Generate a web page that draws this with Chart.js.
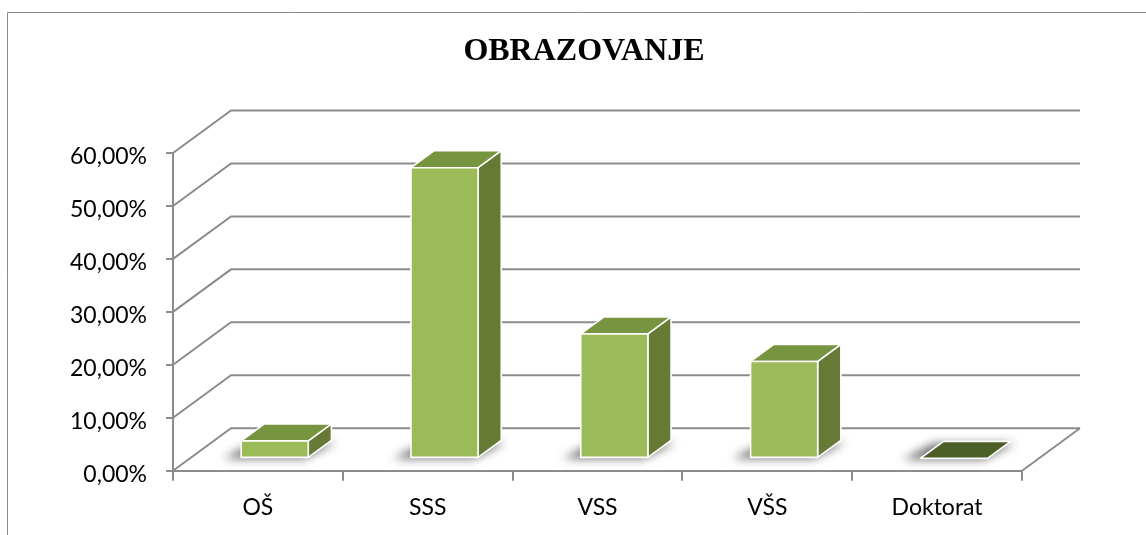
<!DOCTYPE html>
<html>
<head>
<meta charset="utf-8">
<script src="https://cdn.jsdelivr.net/npm/chart.js@4/dist/chart.umd.min.js"></script>
<style>
  html, body { margin: 0; padding: 0; background: #ffffff; }
  #wrap { position: relative; width: 1146px; height: 535px; }
</style>
</head>
<body>
<div id="wrap"><canvas id="c" width="1146" height="535"></canvas></div>
<script>
const categories = ['OŠ', 'SSS', 'VSS', 'VŠS', 'Doktorat'];
const values = [3.3, 54.9, 23.5, 18.3, 0];
const yTicks = [0, 10, 20, 30, 40, 50, 60];
const titleText = 'OBRAZOVANJE';

const DX = 58, DY = 42.5;        // depth offset of back wall
const F1 = 0.29, F2 = 0.69;      // bar depth (front / back fraction)
const GRID = '#8c8c8c';
const FRONT = '#9bbb59', TOP = '#779440', SIDE = '#667a36', FLAT = '#4b5e28';

function fmt(v) { return v.toFixed(2).replace('.', ',') + '%'; }

const frame3d = {
  id: 'frame3d',
  beforeDatasetsDraw(chart) {
    const ctx = chart.ctx, x = chart.scales.x, y = chart.scales.y;
    const L = x.left, R = x.right;
    ctx.save();
    // outer border (top + left)
    ctx.strokeStyle = '#8a8a8a'; ctx.lineWidth = 1;
    ctx.beginPath(); ctx.moveTo(7.5, 535); ctx.lineTo(7.5, 12.5); ctx.lineTo(1146, 12.5); ctx.stroke();
    ctx.strokeStyle = GRID; ctx.lineWidth = 2;
    ctx.beginPath();
    yTicks.forEach(v => {
      const py = y.getPixelForValue(v);
      ctx.moveTo(L, py); ctx.lineTo(L + DX, py - DY); ctx.lineTo(R + DX, py - DY);
    });
    const y0 = y.getPixelForValue(0);
    ctx.moveTo(R, y0); ctx.lineTo(R + DX, y0 - DY);
    ctx.stroke();
    ctx.restore();
  },
  afterDatasetsDraw(chart) {
    const ctx = chart.ctx;
    const meta = chart.getDatasetMeta(0);
    meta.data.forEach((bar, i) => {
      const w = bar.width;
      const x0 = bar.x - w / 2 + F1 * DX, x1 = bar.x + w / 2 + F1 * DX;
      const yb = bar.base - F1 * DY, yt = bar.y - F1 * DY;
      const ddx = (F2 - F1) * DX, ddy = (F2 - F1) * DY;
      // shadow
      ctx.save();
      ctx.filter = 'blur(5px)';
      ctx.fillStyle = 'rgba(50,50,50,0.7)';
      ctx.beginPath();
      ctx.moveTo(x0 - 18, yb + 1); ctx.lineTo(x1 - 4, yb + 1);
      ctx.lineTo(x1 + ddx + 4, yb - ddy + 2); ctx.lineTo(x0 + ddx - 10, yb - ddy + 2);
      ctx.closePath(); ctx.fill();
      ctx.restore();
      ctx.save();
      ctx.strokeStyle = '#ffffff'; ctx.lineWidth = 1.6; ctx.lineJoin = 'round';
      if (values[i] <= 0) {
        ctx.fillStyle = FLAT;
        ctx.beginPath();
        ctx.moveTo(x0, yb); ctx.lineTo(x1, yb); ctx.lineTo(x1 + ddx, yb - ddy); ctx.lineTo(x0 + ddx, yb - ddy);
        ctx.closePath(); ctx.fill(); ctx.stroke();
      } else {
        ctx.fillStyle = SIDE;
        ctx.beginPath();
        ctx.moveTo(x1, yb); ctx.lineTo(x1 + ddx, yb - ddy); ctx.lineTo(x1 + ddx, yt - ddy); ctx.lineTo(x1, yt);
        ctx.closePath(); ctx.fill(); ctx.stroke();
        ctx.fillStyle = TOP;
        ctx.beginPath();
        ctx.moveTo(x0, yt); ctx.lineTo(x1, yt); ctx.lineTo(x1 + ddx, yt - ddy); ctx.lineTo(x0 + ddx, yt - ddy);
        ctx.closePath(); ctx.fill(); ctx.stroke();
        ctx.fillStyle = FRONT;
        ctx.beginPath();
        ctx.rect(x0, yt, x1 - x0, yb - yt);
        ctx.fill(); ctx.stroke();
      }
      ctx.restore();
    });
  }
};

const tickFont = { family: 'Lato, "Open Sans", sans-serif', size: 23 };

new Chart(document.getElementById('c'), {
  type: 'bar',
  data: {
    labels: categories,
    datasets: [{
      data: values,
      backgroundColor: 'rgba(0,0,0,0)',
      borderWidth: 0,
      categoryPercentage: 1,
      barPercentage: 0.395
    }]
  },
  options: {
    responsive: false,
    animation: false,
    devicePixelRatio: 1,
    layout: { padding: { left: 22, right: 0, top: 0, bottom: 0 } },
    plugins: {
      legend: { display: false },
      tooltip: { enabled: false },
      title: {
        display: true,
        text: titleText,
        color: '#000000',
        font: { family: '"Liberation Serif", "Times New Roman", serif', size: 32, weight: 'bold', lineHeight: 1.2 },
        padding: { top: 32.8, bottom: 81.8 }
      }
    },
    scales: {
      x: {
        grid: { display: true, drawOnChartArea: false, drawTicks: true, tickLength: 10, color: GRID, lineWidth: 2, offset: true },
        border: { display: true, color: GRID, width: 2 },
        ticks: { color: '#000000', font: tickFont, padding: 13 },
        afterFit(s) { s.height = 535 - 470.7; }
      },
      y: {
        min: 0, max: 60,
        afterBuildTicks(s) { s.ticks = yTicks.map(v => ({ value: v })); },
        grid: { display: true, drawOnChartArea: false, drawTicks: true, tickLength: 7, color: GRID, lineWidth: 2 },
        border: { display: true, color: GRID, width: 2 },
        ticks: { color: '#000000', font: tickFont, padding: 19, labelOffset: 4, callback: v => fmt(v) },
        afterFit(s) { s.width = 173 - 22; }
      },
      yRight: {
        position: 'right',
        display: true,
        grid: { display: false },
        border: { display: false },
        ticks: { display: false },
        afterFit(s) { s.width = 1146 - 1022; }
      }
    }
  },
  plugins: [frame3d]
});
</script>
</body>
</html>
